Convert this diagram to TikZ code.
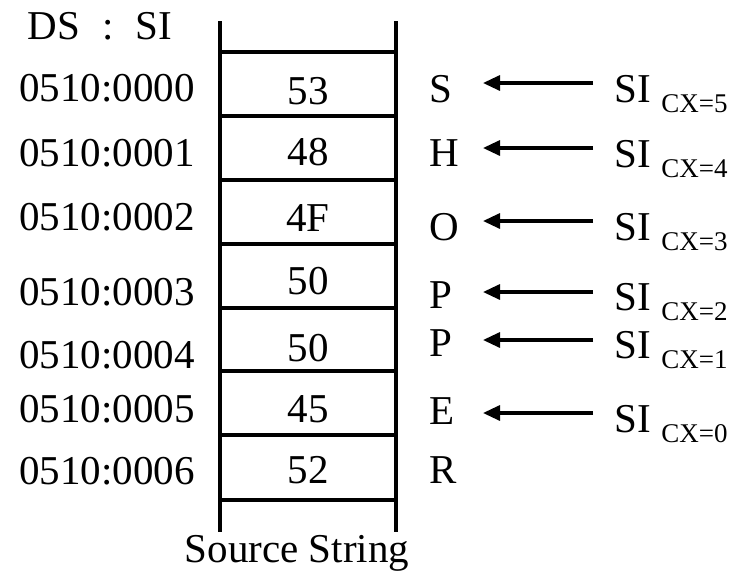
\documentclass[tikz,border=0pt]{standalone}
\usepackage{fontspec}
\setmainfont{Liberation Serif}
\usetikzlibrary{arrows.meta}

\begin{document}
\begin{tikzpicture}[x=1pt, y=-1pt, line width=3.2pt,
	txt/.style={inner sep=0pt, font=\fontsize{41}{45}\selectfont},
	ptr/.style={-{Triangle[length=17pt, width=15pt]}}]
	\useasboundingbox (0, 0) rectangle (740, 571);
	% memory column
	\draw (220, 21) -- (220, 532);
	\draw (396, 21) -- (396, 532);
	\foreach \y in {52, 116, 180, 244, 308, 371, 435, 500}
		\draw (220, \y) -- (396, \y);
	\node [txt] (hdr) at (100, 26) {DS\hspace{22pt}:\hspace{22pt}SI};
	\foreach \addr/\ya/\val/\yv/\ch/\yc [count=\i] in
		{0000/88/53/91/S/89, 0001/153/48/152/H/153, 0002/217/4F/218/O/227,
		 0003/292/50/281/P/295, 0004/355/50/348/P/343, 0005/409/45/409/E/411,
		 0006/471/52/470/R/470}
	{
		\node [txt] (ad\i) at (107, \ya) {0510:\addr};
		\node [txt] (v\i) at (308, \yv) {\val};
		\node [txt, anchor=west] (ch\i) at (428, \yc) {\ch};
	}
	% SI pointers for each CX value
	\foreach \cx/\yb/\yr [count=\i] in
		{5/102/83, 4/167/148, 3/240/221, 2/310/292, 1/358/340, 0/432/413}
	{
		\node [txt, anchor=base west] (si\i) at (613, \yb)
			{SI {\fontsize{27}{30}\selectfont\raisebox{-10pt}{CX=\cx}}};
		\coordinate (tl\i) at (593, \yr);
		\coordinate (hd\i) at (483, \yr);
		\draw [ptr] (tl\i) -- (hd\i);
	}
	\node [txt, anchor=base] (src) at (297, 562) {Source String};
\end{tikzpicture}
\end{document}
